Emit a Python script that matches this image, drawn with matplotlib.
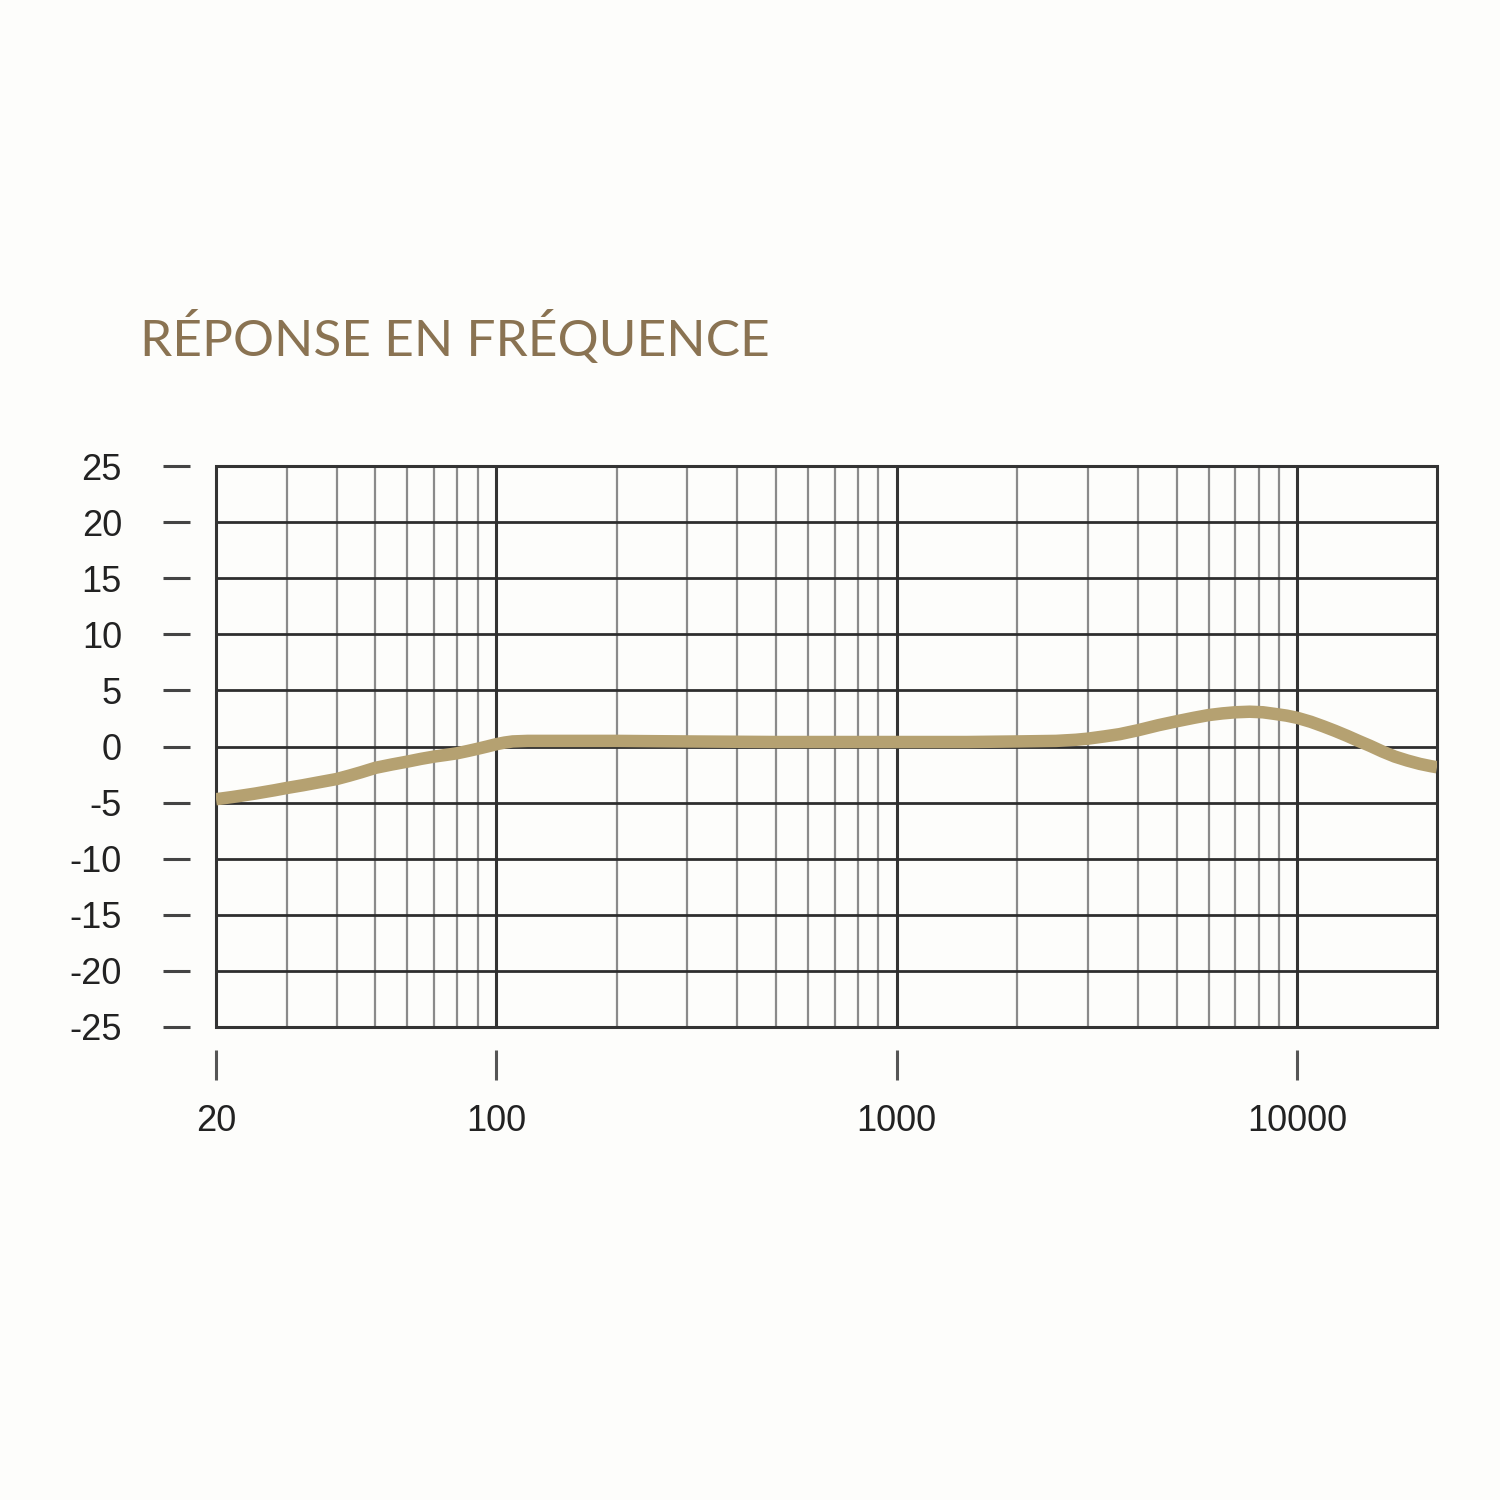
import matplotlib
matplotlib.use("Agg")
import matplotlib.pyplot as plt
from matplotlib.patches import Rectangle

# ---- data ----
freq_hz = [20, 22, 25, 28, 30, 33, 36, 40, 43, 46, 50, 55, 60, 65, 70, 75, 80, 85, 90,
           95, 100, 105, 110, 120, 150, 200, 300, 500, 1000, 1500, 2000, 2500, 2800,
           3000, 3300, 3600, 4000, 4500, 5000, 5500, 6000, 6500, 7000, 7600, 8200,
           8800, 9400, 10000, 10800, 11600, 12400, 13300, 14200, 15200, 16300, 17500,
           18800, 20200, 21500, 22300]
response_db = [-4.7, -4.5, -4.2, -3.9, -3.7, -3.45, -3.2, -2.9, -2.6, -2.3, -1.9, -1.6,
               -1.35, -1.1, -0.9, -0.75, -0.6, -0.4, -0.2, 0.0, 0.2, 0.35, 0.45, 0.5,
               0.5, 0.5, 0.45, 0.4, 0.4, 0.4, 0.45, 0.5, 0.6, 0.7, 0.9, 1.1, 1.45, 1.9,
               2.25, 2.55, 2.8, 2.95, 3.05, 3.1, 3.05, 2.9, 2.75, 2.55, 2.2, 1.8, 1.4,
               0.95, 0.5, 0.05, -0.45, -0.9, -1.25, -1.55, -1.75, -1.85]
y_ticks = [25, 20, 15, 10, 5, 0, -5, -10, -15, -20, -25]
x_major_ticks = [20, 100, 1000, 10000]
x_major_labels = ["20", "100", "1000", "10000"]
x_major_grid = [100, 1000, 10000]
x_minor_grid = [30, 40, 50, 60, 70, 80, 90,
                200, 300, 400, 500, 600, 700, 800, 900,
                2000, 3000, 4000, 5000, 6000, 7000, 8000, 9000]
title = "RÉPONSE EN FRÉQUENCE"
x_min, x_max = 20, 22300
y_min, y_max = -25, 25

PX = 72 / 100  # points per pixel at dpi 100

fig = plt.figure(figsize=(15, 15), dpi=100, facecolor="#fdfdfb")
ax = fig.add_axes([216 / 1500, 1 - 1027 / 1500, (1437 - 216) / 1500, (1027 - 466) / 1500])
ax.set_facecolor("#fdfdfb")
ax.set_xscale("log")
ax.set_xlim(x_min, x_max)
ax.set_ylim(y_min, y_max)

# grid
for f in x_minor_grid:
    ax.axvline(f, color="#8a8a8a", lw=1.6, zorder=1)
for f in x_major_grid:
    ax.axvline(f, color="#333333", lw=2.2, zorder=1.5)
for v in y_ticks:
    ax.axhline(v, color="#2e2e2e", lw=2.0, zorder=1.5)
ax.add_patch(Rectangle((0, 0), 1, 1, transform=ax.transAxes, fill=False,
                       edgecolor="#333333", lw=2.2, zorder=1.6, clip_on=False))

# curve
ax.plot(freq_hz, response_db, color="#b5a171", lw=12.5 * PX, solid_capstyle="butt",
        solid_joinstyle="round", zorder=3)

# spines/ticks offset outward
for s in ["top", "right"]:
    ax.spines[s].set_visible(False)
ax.spines["left"].set_position(("outward", 26 * PX))
ax.spines["bottom"].set_position(("outward", 23 * PX))
ax.spines["left"].set_visible(False)
ax.spines["bottom"].set_visible(False)

ax.set_yticks(y_ticks)
ax.set_yticklabels([str(v) for v in y_ticks])
ax.set_xticks(x_major_ticks)
ax.set_xticklabels(x_major_labels)
ax.xaxis.set_minor_locator(matplotlib.ticker.NullLocator())

ax.tick_params(axis="y", direction="out", length=27 * PX, width=2.2, color="#444444",
               pad=41 * PX, labelsize=26, labelcolor="#222222")
ax.tick_params(axis="x", direction="out", length=30 * PX, width=2.2, color="#555555",
               pad=24 * PX, labelsize=26, labelcolor="#222222")
for lab in ax.get_xticklabels() + ax.get_yticklabels():
    lab.set_family(["Liberation Sans", "DejaVu Sans"])

fig.text(140 / 1500, 1 - 338 / 1500, title, fontsize=37, color="#8a7352",
         family=["Lato", "DejaVu Sans"], fontweight="normal", va="center", ha="left")

fig.savefig("out.png", dpi=100, facecolor=fig.get_facecolor())
